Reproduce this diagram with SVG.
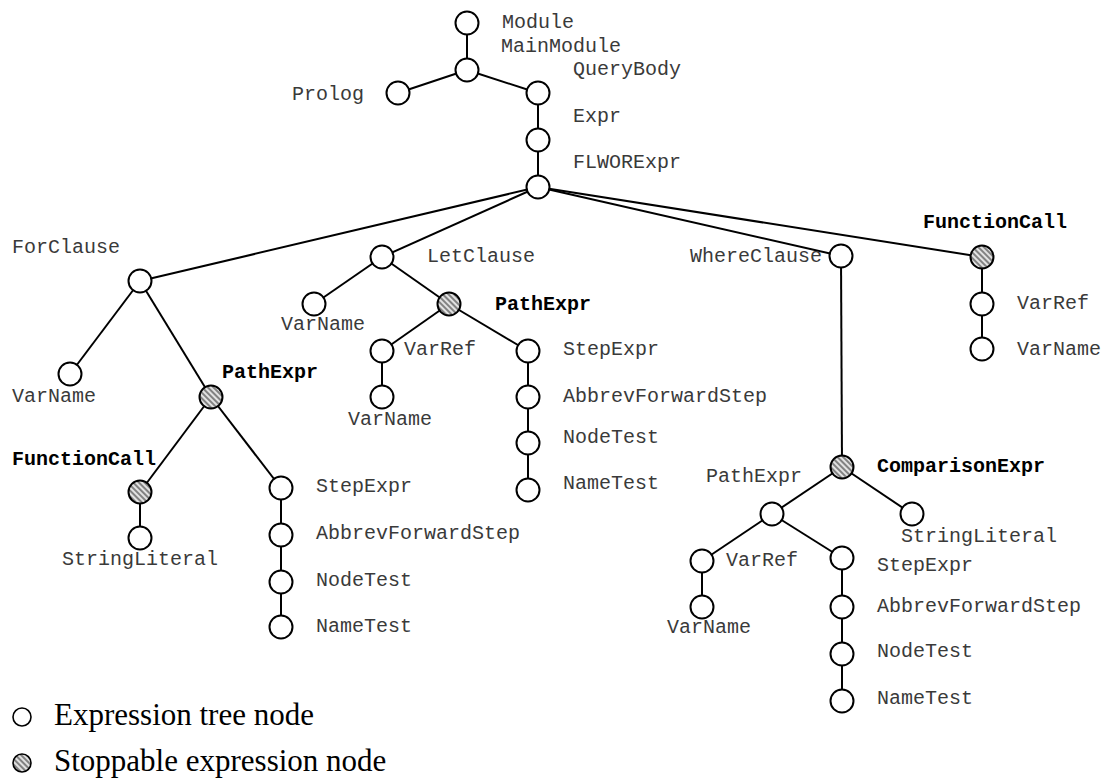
<svg xmlns="http://www.w3.org/2000/svg" width="1108" height="778" viewBox="0 0 1108 778">
<defs>
<pattern id="hatch" width="4" height="4" patternUnits="userSpaceOnUse" patternTransform="rotate(-45)">
<rect width="4" height="4" fill="#e2e2e2"/>
<line x1="1" y1="0" x2="1" y2="4" stroke="#6a6a6a" stroke-width="1.6"/>
</pattern>
</defs>
<style>
.n{fill:#fff;stroke:#000;stroke-width:2}
.s{fill:url(#hatch);stroke:#000;stroke-width:2}
.t{font-family:"Liberation Mono","Courier New",monospace;font-size:20px;fill:#3a3a3a}
.b{font-family:"Liberation Mono","Courier New",monospace;font-size:20px;font-weight:bold;fill:#000}
.e line{stroke:#000;stroke-width:2}
.lg{font-family:"Liberation Serif","Times New Roman",serif;font-size:31px;fill:#000}
.ln{fill:#fff;stroke:#000;stroke-width:1.6}
.ls{fill:url(#hatch);stroke:#000;stroke-width:1.6}
</style>
<g id="connectors" class="e">
<line x1="467" y1="23" x2="467" y2="70"/>
<line x1="467" y1="70" x2="398" y2="93"/>
<line x1="467" y1="70" x2="538" y2="93"/>
<line x1="538" y1="93" x2="538" y2="140"/>
<line x1="538" y1="140" x2="538" y2="187"/>
<line x1="538" y1="187" x2="140" y2="281"/>
<line x1="538" y1="187" x2="382" y2="257"/>
<line x1="538" y1="187" x2="841" y2="256"/>
<line x1="538" y1="187" x2="982" y2="257"/>
<line x1="140" y1="281" x2="70" y2="374"/>
<line x1="140" y1="281" x2="211" y2="397"/>
<line x1="211" y1="397" x2="140" y2="492"/>
<line x1="211" y1="397" x2="281" y2="488"/>
<line x1="140" y1="492" x2="140" y2="538"/>
<line x1="281" y1="488" x2="281" y2="627"/>
<line x1="382" y1="257" x2="314" y2="304"/>
<line x1="382" y1="257" x2="449" y2="304"/>
<line x1="449" y1="304" x2="382" y2="351"/>
<line x1="449" y1="304" x2="528" y2="351"/>
<line x1="382" y1="351" x2="382" y2="397"/>
<line x1="528" y1="351" x2="528" y2="490"/>
<line x1="841" y1="256" x2="842" y2="467"/>
<line x1="842" y1="467" x2="772" y2="514"/>
<line x1="842" y1="467" x2="912" y2="514"/>
<line x1="772" y1="514" x2="702" y2="561"/>
<line x1="772" y1="514" x2="842" y2="558"/>
<line x1="702" y1="561" x2="702" y2="607"/>
<line x1="842" y1="558" x2="842" y2="701"/>
<line x1="982" y1="257" x2="982" y2="349"/>
</g>
<g id="module"><circle class="n" cx="467" cy="23" r="11.5"/><text class="t" x="502" y="28">Module</text></g>
<g id="mainmodule"><circle class="n" cx="467" cy="70" r="11.5"/><text class="t" x="501" y="52">MainModule</text></g>
<g id="prolog"><circle class="n" cx="398" cy="93" r="11.5"/><text class="t" x="292" y="100">Prolog</text></g>
<g id="querybody"><circle class="n" cx="538" cy="93" r="11.5"/><text class="t" x="573" y="75">QueryBody</text></g>
<g id="expr"><circle class="n" cx="538" cy="140" r="11.5"/><text class="t" x="573" y="122">Expr</text></g>
<g id="flworexpr"><circle class="n" cx="538" cy="187" r="11.5"/><text class="t" x="573" y="168">FLWORExpr</text></g>
<g id="forclause"><circle class="n" cx="140" cy="281" r="11.5"/><text class="t" x="12" y="253">ForClause</text></g>
<g id="for-varname"><circle class="n" cx="70" cy="374" r="11.5"/><text class="t" x="12" y="402">VarName</text></g>
<g id="for-pathexpr"><circle class="s" cx="211" cy="397" r="11.5"/><text class="b" x="222" y="378">PathExpr</text></g>
<g id="for-functioncall"><circle class="s" cx="140" cy="492" r="11.5"/><text class="b" x="12" y="465">FunctionCall</text></g>
<g id="for-stringliteral"><circle class="n" cx="140" cy="538" r="11.5"/><text class="t" x="62" y="565">StringLiteral</text></g>
<g id="for-stepexpr"><circle class="n" cx="281" cy="488" r="11.5"/><text class="t" x="316" y="492">StepExpr</text></g>
<g id="for-abbrevforwardstep"><circle class="n" cx="281" cy="535" r="11.5"/><text class="t" x="316" y="539">AbbrevForwardStep</text></g>
<g id="for-nodetest"><circle class="n" cx="281" cy="582" r="11.5"/><text class="t" x="316" y="586">NodeTest</text></g>
<g id="for-nametest"><circle class="n" cx="281" cy="627" r="11.5"/><text class="t" x="316" y="632">NameTest</text></g>
<g id="letclause"><circle class="n" cx="382" cy="257" r="11.5"/><text class="t" x="427" y="262">LetClause</text></g>
<g id="let-varname"><circle class="n" cx="314" cy="304" r="11.5"/><text class="t" x="281" y="330">VarName</text></g>
<g id="let-pathexpr"><circle class="s" cx="449" cy="304" r="11.5"/><text class="b" x="495" y="310">PathExpr</text></g>
<g id="let-varref"><circle class="n" cx="382" cy="351" r="11.5"/><text class="t" x="404" y="355">VarRef</text></g>
<g id="let-varref-varname"><circle class="n" cx="382" cy="397" r="11.5"/><text class="t" x="348" y="425">VarName</text></g>
<g id="let-stepexpr"><circle class="n" cx="528" cy="351" r="11.5"/><text class="t" x="563" y="355">StepExpr</text></g>
<g id="let-abbrevforwardstep"><circle class="n" cx="528" cy="397" r="11.5"/><text class="t" x="563" y="402">AbbrevForwardStep</text></g>
<g id="let-nodetest"><circle class="n" cx="528" cy="443" r="11.5"/><text class="t" x="563" y="443">NodeTest</text></g>
<g id="let-nametest"><circle class="n" cx="528" cy="490" r="11.5"/><text class="t" x="563" y="489">NameTest</text></g>
<g id="whereclause"><circle class="n" cx="841" cy="256" r="11.5"/><text class="t" x="690" y="262">WhereClause</text></g>
<g id="comparisonexpr"><circle class="s" cx="842" cy="467" r="11.5"/><text class="b" x="877" y="472">ComparisonExpr</text></g>
<g id="where-pathexpr"><circle class="n" cx="772" cy="514" r="11.5"/><text class="t" x="706" y="482">PathExpr</text></g>
<g id="where-stringliteral"><circle class="n" cx="912" cy="514" r="11.5"/><text class="t" x="901" y="542">StringLiteral</text></g>
<g id="where-varref"><circle class="n" cx="702" cy="561" r="11.5"/><text class="t" x="726" y="566">VarRef</text></g>
<g id="where-varname"><circle class="n" cx="702" cy="607" r="11.5"/><text class="t" x="667" y="633">VarName</text></g>
<g id="where-stepexpr"><circle class="n" cx="842" cy="558" r="11.5"/><text class="t" x="877" y="571">StepExpr</text></g>
<g id="where-abbrevforwardstep"><circle class="n" cx="842" cy="607" r="11.5"/><text class="t" x="877" y="612">AbbrevForwardStep</text></g>
<g id="where-nodetest"><circle class="n" cx="842" cy="654" r="11.5"/><text class="t" x="877" y="657">NodeTest</text></g>
<g id="where-nametest"><circle class="n" cx="842" cy="701" r="11.5"/><text class="t" x="877" y="704">NameTest</text></g>
<g id="functioncall"><circle class="s" cx="982" cy="257" r="11.5"/><text class="b" x="923" y="228">FunctionCall</text></g>
<g id="fc-varref"><circle class="n" cx="982" cy="304" r="11.5"/><text class="t" x="1017" y="309">VarRef</text></g>
<g id="fc-varname"><circle class="n" cx="982" cy="349" r="11.5"/><text class="t" x="1017" y="355">VarName</text></g>
<g id="legend">
<circle class="ln" cx="22" cy="717" r="9"/><text class="lg" x="54" y="725">Expression tree node</text>
<circle class="ls" cx="22" cy="763" r="9"/><text class="lg" x="54" y="771">Stoppable expression node</text>
</g>
</svg>
